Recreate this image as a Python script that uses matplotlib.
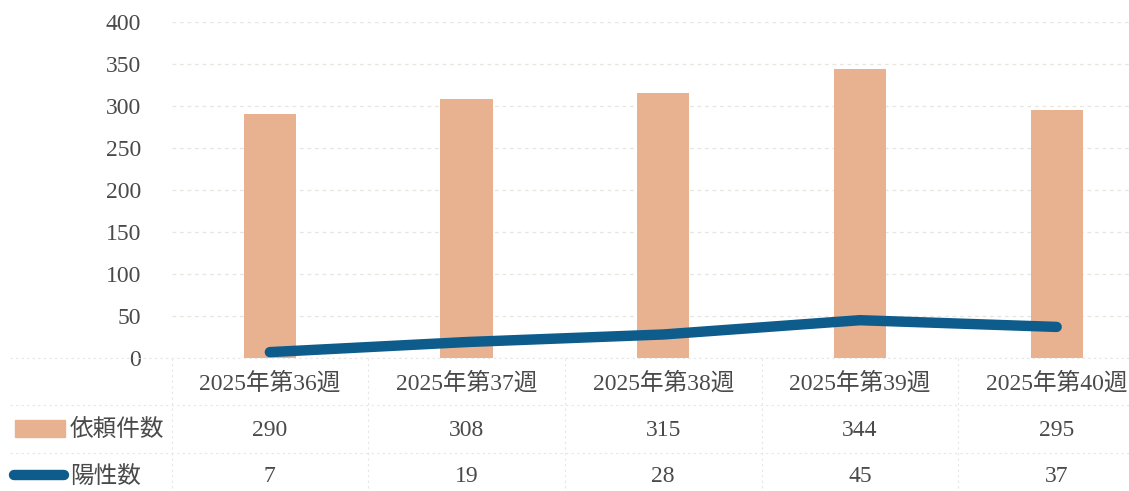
import numpy as np
import matplotlib
matplotlib.use("Agg")
import matplotlib.pyplot as plt
import matplotlib.transforms as mtransforms
from matplotlib.patches import Rectangle
from matplotlib.lines import Line2D

# データ
weeks = ["2025年第36週", "2025年第37週", "2025年第38週", "2025年第39週", "2025年第40週"]
requests = [290, 308, 315, 344, 295]
positives = [7, 19, 28, 45, 37]
series_names = ["依頼件数", "陽性数"]

bar_color = "#E8B291"
line_color = "#0D5C8C"
text_color = "#4A4A4A"
fonts = ["Liberation Serif", "Noto Sans CJK JP"]
fs = 17

plt.rcParams["font.family"] = fonts

fig = plt.figure(figsize=(11.29, 4.91), dpi=100)
ax = fig.add_axes([171.5 / 1129, 1 - 358 / 491, (1155 - 171.5) / 1129, (358 - 22) / 491])

x = np.arange(len(weeks))
ax.bar(x, requests, width=0.265, color=bar_color, zorder=2)
ax.plot(x, positives, color=line_color, lw=7.5, solid_capstyle="round",
        solid_joinstyle="round", zorder=4)

ax.set_xlim(-0.5, len(weeks) - 0.5)
ax.set_ylim(0, 400)
ax.set_yticks(np.arange(0, 401, 50))
ax.tick_params(axis="y", length=0, pad=22, labelsize=fs, labelcolor=text_color)
ax.set_xticks([])
for s in ax.spines.values():
    s.set_visible(False)
ax.yaxis.grid(True, color="#9a7a60", alpha=0.2, lw=0.9, ls=(0, (3, 3)), zorder=3)

# データテーブル
tr = mtransforms.blended_transform_factory(ax.transData, fig.transFigure)
row_y = [1 - 383 / 491, 1 - 430 / 491, 1 - 477 / 491]
for i, w in enumerate(weeks):
    ax.text(x[i], row_y[0], w, transform=tr, ha="center", va="center",
            fontsize=fs, color=text_color, clip_on=False)
    ax.text(x[i], row_y[1], str(requests[i]), transform=tr, ha="center", va="center",
            fontsize=fs, color=text_color, clip_on=False)
    ax.text(x[i], row_y[2], str(positives[i]), transform=tr, ha="center", va="center",
            fontsize=fs, color=text_color, clip_on=False)

for name, yy in zip(series_names, row_y[1:]):
    fig.text(70 / 1129, yy, name, ha="left", va="center", fontsize=fs, color=text_color)

# 凡例キー
fig.patches.append(Rectangle((15 / 1129, 1 - 437 / 491), 50 / 1129, 17 / 491,
                             transform=fig.transFigure, color=bar_color))
fig.lines.append(Line2D([14 / 1129, 64 / 1129], [1 - 475 / 491] * 2, transform=fig.transFigure,
                        color=line_color, lw=7.5, solid_capstyle="round"))

# テーブル罫線
grid_c = "#e6e6e6"
for yy in [1 - 358 / 491, 1 - 405 / 491, 1 - 453 / 491]:
    fig.lines.append(Line2D([10 / 1129, 1], [yy, yy], transform=fig.transFigure,
                            color=grid_c, lw=0.8, ls=(0, (2, 3))))
for b in np.arange(len(weeks)) - 0.5:
    ax.plot([b, b], [1 - 358 / 491, 0], transform=tr, color=grid_c, lw=0.8,
            ls=(0, (2, 3)), clip_on=False)

fig.savefig("out.png", dpi=100)
